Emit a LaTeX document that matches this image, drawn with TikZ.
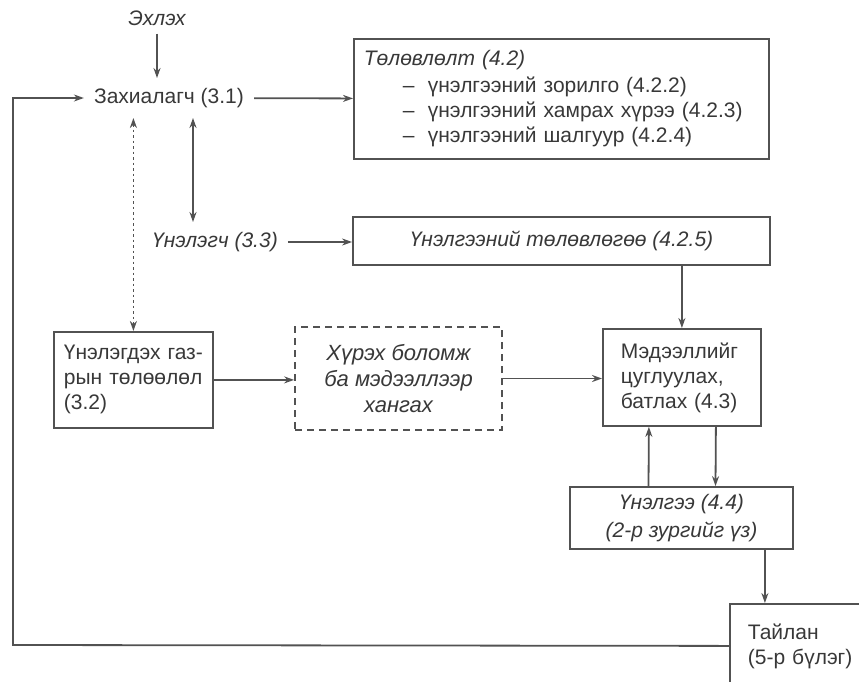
\documentclass[tikz,border=0pt]{standalone}
\usepackage{fontspec}
\setmainfont{Liberation Sans}
\usetikzlibrary{arrows.meta}

\begin{document}
\begin{tikzpicture}[x=1pt,y=-1pt,
	lbl/.style={text=black!78, font=\fontsize{21}{25}\selectfont, inner sep=10pt},
	lblit/.style={lbl, font=\fontsize{21}{25}\selectfont\itshape},
	box/.style={draw=black!68, line width=1.8pt, text=black!78, font=\fontsize{21}{25}\selectfont, inner xsep=10pt},
	arr/.style={draw=black!68, line width=1.8pt, -{Stealth[length=10pt,width=7pt]}},
	darr/.style={arr, {Stealth[length=10pt,width=7pt]}-{Stealth[length=10pt,width=7pt]}}]
	\useasboundingbox (0,0) rectangle (859,681);

	\node[lblit, inner sep=8pt] (start) at (157,18) {Эхлэх};
	\node[lbl] (zah) at (169,98) {Захиалагч (3.1)};
	\node[box, anchor=north west, minimum width=415pt, minimum height=120pt, text width=395pt, align=left] (plan) at (353,38)
		{\textit{Төлөвлөлт (4.2)}\\[2pt]
		\hspace*{39pt}\makebox[25pt][l]{–}үнэлгээний зорилго (4.2.2)\\
		\hspace*{39pt}\makebox[25pt][l]{–}үнэлгээний хамрах хүрээ (4.2.3)\\
		\hspace*{39pt}\makebox[25pt][l]{–}үнэлгээний шалгуур (4.2.4)};
	\node[lblit] (eval) at (215,242) {Үнэлэгч (3.3)};
	\node[box, font=\fontsize{21}{25}\selectfont\itshape, minimum width=417pt, minimum height=48pt] (evplan) at (561.5,241) {Үнэлгээний төлөвлөгөө (4.2.5)};
	\node[box, anchor=north west, minimum width=159pt, minimum height=96pt, text width=139pt, align=left] (tp) at (53,331) {Үнэлэгдэх газ-\\рын төлөөлөл\\(3.2)};
	\node[box, dash pattern=on 7pt off 5pt, minimum width=207pt, minimum height=103pt, font=\fontsize{22}{26}\selectfont\itshape, align=center] (access) at (398.5,378.5) {Хүрэх боломж\\ба мэдээллээр\\хангах};
	\node[box, anchor=north west, minimum width=158pt, minimum height=97pt, text width=122pt, align=left] (collect) at (602,328) {Мэдээллийг\\цуглуулах,\\батлах (4.3)};
	\node[box, font=\fontsize{21}{28}\selectfont\itshape, align=center, minimum width=223pt, minimum height=62pt] (assess) at (681.5,518) {Үнэлгээ (4.4)\\(2-р зургийг үз)};
	\node[box, anchor=north west, minimum width=150pt, minimum height=84pt, text width=114pt, align=left] (report) at (729,603) {Тайлан\\(5-р бүлэг)};
	\coordinate (loop) at (13,645);

	\draw[arr] (start) -- (start |- zah.north);
	\draw[arr] (zah) -- (plan);
	\draw[arr] (report.west) -- (loop) |- (zah.west);
	\draw[darr, dash pattern=on 2.5pt off 3pt] (zah.south -| tp.north) -- (tp.north);
	\draw[darr] ([xshift=24pt]zah.south) -- ([xshift=24pt]zah.south |- eval.north);
	\draw[arr] (eval) -- (eval -| evplan.west);
	\draw[arr] (tp) -- (tp -| access.west);
	\draw[arr] (access) -- (access -| collect.west);
	\draw[arr] (evplan.south -| collect.north) -- (collect.north);
	\draw[arr] ([xshift=-33pt]assess.north) -- ([xshift=-33pt]collect.south);
	\draw[arr] ([xshift=34pt]collect.south) -- ([xshift=34pt]assess.north);
	\draw[arr] ([xshift=-29pt]assess.south east) -- ([xshift=-29pt]assess.south east |- report.north);
\end{tikzpicture}
\end{document}
